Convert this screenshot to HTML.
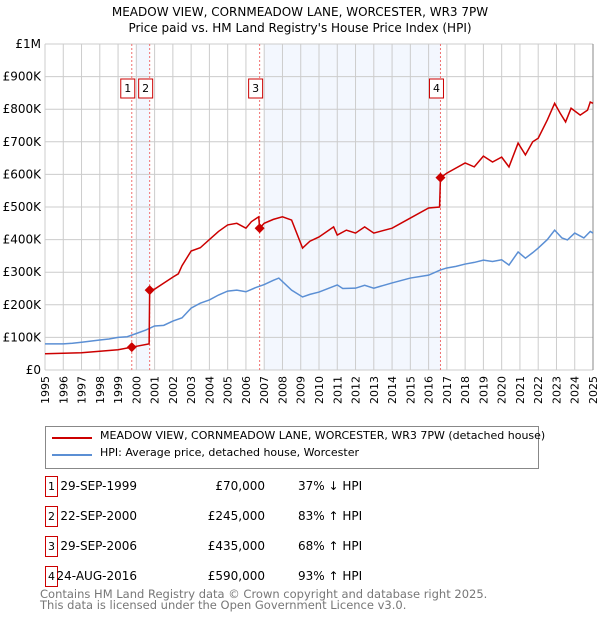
<!DOCTYPE html>
<html><head><meta charset="utf-8"><style>
body{margin:0;background:#fff;font-family:"DejaVu Sans","Liberation Sans",sans-serif;}
#wrap{position:relative;width:600px;height:620px;overflow:hidden}
.t{position:absolute;font-size:12px;color:#000;white-space:nowrap}
</style></head><body><div id="wrap">
<svg id="chart" width="600" height="420" style="position:absolute;left:0;top:0">
<text x="300" y="16" text-anchor="middle" font-size="12">MEADOW VIEW, CORNMEADOW LANE, WORCESTER, WR3 7PW</text>
<text x="300" y="32" text-anchor="middle" font-size="12">Price paid vs. HM Land Registry's House Price Index (HPI)</text>
<g id="g"></g>
</svg>
<div style="position:absolute;left:45px;top:426px;width:492px;height:41px;border:1px solid #888">
 <div style="position:absolute;left:6px;top:10px;width:40px;height:2px;background:#cc0000"></div>
 <div class="t" style="left:54px;top:2px;font-size:11px">MEADOW VIEW, CORNMEADOW LANE, WORCESTER, WR3 7PW (detached house)</div>
 <div style="position:absolute;left:6px;top:27px;width:40px;height:2px;background:#5b8fd4"></div>
 <div class="t" style="left:54px;top:19px;font-size:11px">HPI: Average price, detached house, Worcester</div>
</div>
<div id="tbl"></div>
<div class="t" style="left:40px;top:589px;color:#777;font-size:11.5px;line-height:11px">Contains HM Land Registry data © Crown copyright and database right 2025.<br>This data is licensed under the Open Government Licence v3.0.</div>
</div>
<script>
const hpiYears=[1995,1996,1996.5,1997,1998,1998.5,1999,1999.5,2000,2000.5,2001,2001.5,2002,2002.5,2003,2003.5,2004,2004.5,2005,2005.5,2006,2006.5,2007,2007.5,2007.8,2008.5,2009.1,2009.5,2010,2011,2011.3,2012,2012.5,2013,2014,2015,2016,2016.65,2017,2017.5,2018,2018.5,2019,2019.5,2020,2020.4,2020.9,2021.3,2021.7,2022,2022.5,2022.9,2023.3,2023.6,2024,2024.5,2024.85,2025];
const hpiValues=[80,80,82,85,92,95,100,102,112,122,135,137,150,160,190,205,215,230,242,245,240,252,262,275,282,245,224,232,239,261,250,251,260,251,267,282,291,307,313,318,325,330,337,333,338,322,362,343,360,374,400,429,405,399,420,405,425,420];
const redYears=[1995,1997,1999,1999.75,2000.7,2000.73,2001,2002,2002.3,2002.5,2003,2003.5,2004,2004.5,2005,2005.5,2006,2006.3,2006.7,2006.75,2007,2007.5,2008,2008.5,2009.1,2009.5,2010,2010.8,2011,2011.5,2012,2012.5,2013,2014,2015,2016,2016.6,2016.65,2017,2018,2018.5,2019,2019.5,2020,2020.4,2020.9,2021.3,2021.7,2022,2022.5,2022.9,2023.2,2023.5,2023.8,2024.3,2024.7,2024.85,2025];
const redValues=[50,53,62,70,80,245,248,285,295,320,365,375,400,425,445,450,435,455,470,435,450,462,470,460,374,395,408,439,414,429,420,439,420,435,466,497,500,590,604,635,623,656,638,653,623,696,660,700,711,767,818,788,761,803,782,797,822,818];
const saleYears=[1999.75,2000.73,2006.75,2016.65];
const saleValues=[70,245,435,590];
const saleLabels=["1","2","3","4"];
const saleDates=["29-SEP-1999","22-SEP-2000","29-SEP-2006","24-AUG-2016"];
const salePrices=["£70,000","£245,000","£435,000","£590,000"];
const saleHpi=["37% ↓ HPI","83% ↑ HPI","68% ↑ HPI","93% ↑ HPI"];
const yTicks=[0,100,200,300,400,500,600,700,800,900,1000];
const yTickLabels=["£0","£100K","£200K","£300K","£400K","£500K","£600K","£700K","£800K","£900K","£1M"];
const shadeRanges=[[2000,2000.73],[2007,2016.65]];
const X0=45,X1=593,Y0=370,Y1=44;
const xs=y=>X0+(y-1995)/30*(X1-X0);
const ys=v=>Y0-v/1000*(Y0-Y1);
const g=document.getElementById('g');const NS='http://www.w3.org/2000/svg';
function mk(t,a){const e=document.createElementNS(NS,t);for(const k in a)e.setAttribute(k,a[k]);g.appendChild(e);return e;}
shadeRanges.forEach(r=>{const e=mk('rect',{x:xs(r[0]),y:Y1,width:xs(r[1])-xs(r[0]),height:Y0-Y1,fill:'#eef3fd',opacity:0.7});

});
for(let yr=1995;yr<=2025;yr++){const x=xs(yr);const l=mk('line',{x1:x,x2:x,y1:Y1,y2:Y0,stroke:'#ccc'});


const t=mk('text',{x:0,y:0,'font-size':11,'text-anchor':'end',transform:`translate(${x+4},${Y0+6}) rotate(-90)`});t.textContent=yr;

}
yTicks.forEach((v,i)=>{const y=ys(v);const l=mk('line',{x1:X0,x2:X1,y1:y,y2:y,stroke:'#ccc'});


const t=mk('text',{x:X0-4,y:y+4,'font-size':12,'text-anchor':'end'});t.textContent=yTickLabels[i];

});
const ax=mk('line',{x1:X1,x2:X1,y1:Y1,y2:Y0,stroke:'#888'});


saleYears.forEach((yr,i)=>{const x=xs(yr);const l=mk('line',{x1:x,x2:x,y1:Y1,y2:Y0,stroke:'#f07070','stroke-dasharray':'2,2'});


const b=mk('rect',{x:x-11,y:79,width:14,height:19,fill:'#fff',stroke:'#cc0000'});


const t=mk('text',{x:x-4,y:92,'font-size':11,'text-anchor':'middle'});t.textContent=saleLabels[i];

});
const hp=mk('polyline',{points:hpiYears.map((y,i)=>xs(y)+','+ys(hpiValues[i])).join(' '),fill:'none',stroke:'#5b8fd4','stroke-width':1.5});


const rp=mk('polyline',{points:redYears.map((y,i)=>xs(y)+','+ys(redValues[i])).join(' '),fill:'none',stroke:'#cc0000','stroke-width':1.5});


saleYears.forEach((yr,i)=>{const x=xs(yr),y=ys(saleValues[i]);const d=mk('polygon',{points:`${x},${y-5} ${x+5},${y} ${x},${y+5} ${x-5},${y}`,fill:'#cc0000'});

});
const tbl=document.getElementById('tbl');
saleLabels.forEach((s,i)=>{const top=476+i*30;
const r=document.createElement('div');r.style.cssText=`position:absolute;left:0;top:${top}px;width:600px;height:22px`;


r.innerHTML=`<div style="position:absolute;left:45px;top:0;width:11px;height:19px;border:1px solid #cc0000;font-size:11px;text-align:center;line-height:19px">${s}</div>
<div class="t" style="right:463px;top:3px">${saleDates[i]}</div>
<div class="t" style="right:335px;top:3px">${salePrices[i]}</div>
<div class="t" style="left:298px;top:3px">${saleHpi[i]}</div>`;
tbl.appendChild(r);});
</script></body></html>
